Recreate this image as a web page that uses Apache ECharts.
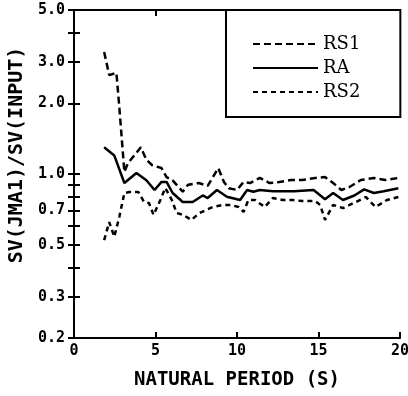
<!DOCTYPE html>
<html><head><meta charset="utf-8">
<script src="https://cdn.jsdelivr.net/npm/echarts@6/dist/echarts.min.js"></script>
<style>html,body{margin:0;padding:0;background:#fff}#c{width:408px;height:396px}</style>
</head><body><div id="c"></div>
<script>
const rs1Period = [1.85, 2.16, 2.6, 2.78, 3.09, 3.3, 4.1, 4.44, 4.8, 5.37, 5.68, 6.05, 6.67, 7.0, 7.65, 8.2, 8.85, 9.2, 9.5, 10.0, 10.4, 10.8, 11.4, 12.0, 12.6, 13.3, 14.0, 14.8, 15.4, 15.9, 16.4, 16.9, 17.6, 18.4, 19.1, 19.9];
const rs1Ratio  = [3.31, 2.64, 2.70, 1.93, 1.02, 1.11, 1.30, 1.15, 1.09, 1.06, 0.97, 0.94, 0.84, 0.90, 0.915, 0.89, 1.06, 0.924, 0.87, 0.855, 0.924, 0.915, 0.962, 0.915, 0.924, 0.943, 0.943, 0.962, 0.971, 0.915, 0.855, 0.88, 0.943, 0.962, 0.943, 0.962];
const raPeriod = [1.85, 2.47, 3.09, 3.83, 4.44, 4.94, 5.37, 5.68, 6.05, 6.67, 7.28, 7.9, 8.2, 8.77, 9.38, 10.19, 10.62, 11.0, 11.4, 12.2, 13.5, 14.7, 15.4, 15.9, 16.5, 17.2, 17.8, 18.4, 19.0, 19.9];
const raRatio  = [1.30, 1.20, 0.915, 1.01, 0.94, 0.855, 0.925, 0.925, 0.83, 0.76, 0.76, 0.81, 0.79, 0.855, 0.80, 0.775, 0.855, 0.84, 0.855, 0.845, 0.845, 0.855, 0.78, 0.83, 0.775, 0.81, 0.86, 0.83, 0.845, 0.87];
const rs2Period = [1.85, 2.16, 2.47, 2.78, 3.09, 3.4, 3.95, 4.3, 4.6, 4.88, 5.3, 5.6, 6.0, 6.3, 6.7, 7.2, 7.7, 8.1, 8.5, 9.1, 9.6, 10.1, 10.4, 10.7, 11.1, 11.7, 12.2, 12.8, 13.4, 14.0, 14.8, 15.1, 15.4, 15.9, 16.5, 17.3, 17.9, 18.5, 19.2, 19.9];
const rs2Ratio  = [0.523, 0.624, 0.54, 0.656, 0.83, 0.838, 0.838, 0.76, 0.752, 0.669, 0.775, 0.872, 0.775, 0.682, 0.669, 0.637, 0.682, 0.702, 0.723, 0.738, 0.738, 0.723, 0.689, 0.775, 0.775, 0.723, 0.79, 0.775, 0.775, 0.767, 0.767, 0.738, 0.637, 0.738, 0.716, 0.76, 0.798, 0.723, 0.775, 0.798];
const seriesNames = ['RS1', 'RA', 'RS2'];
const yTickValues = [0.2, 0.3, 0.4, 0.5, 0.6, 0.7, 0.8, 0.9, 1.0, 2.0, 3.0, 4.0, 5.0];
const yLabelValues = [0.2, 0.3, 0.5, 0.7, 1.0, 2.0, 3.0, 5.0];
const xTickLabels = [0, 5, 10, 15, 20];

const zip = (xs, ys) => xs.map((x, i) => [x, ys[i]]);
const monoFont = 'DejaVu Sans Mono';
const axisLineStyle = { color: '#000', width: 2 };

const xAxisBase = {
  type: 'value', min: 0, max: 20, interval: 5,
  axisLine: { show: true, lineStyle: axisLineStyle },
  axisTick: { show: true, inside: true, length: 6, lineStyle: { color: '#000', width: 2 } },
  splitLine: { show: false }
};
const yAxisBase = {
  type: 'log', logBase: 10, min: 0.2, max: 5,
  axisLine: { show: true, lineStyle: axisLineStyle },
  axisTick: { show: true, inside: true, length: 6, customValues: yTickValues, lineStyle: { color: '#000', width: 2 } },
  minorTick: { show: false },
  splitLine: { show: false }
};

const chart = echarts.init(document.getElementById('c'));
chart.setOption({
  animation: false,
  backgroundColor: '#fff',
  grid: { left: 74, right: 8, top: 10, bottom: 58, containLabel: false, outerBoundsMode: 'none' },
  legend: {
    orient: 'vertical', left: 226, top: 10,
    padding: [25, 40, 16, 26],
    itemWidth: 65, itemHeight: 14, itemGap: 6, itemTextGap: 10,
    itemStyle: { opacity: 0 },
    borderColor: '#000', borderWidth: 2, backgroundColor: '#fff',
    data: seriesNames,
    textStyle: { fontFamily: 'DejaVu Serif', fontSize: 18, color: '#000' }
  },
  xAxis: [
    Object.assign({}, xAxisBase, {
      position: 'bottom',
      name: 'NATURAL PERIOD (S)', nameLocation: 'middle', nameGap: 33,
      nameTextStyle: { fontFamily: monoFont, fontWeight: 'bold', fontSize: 19, color: '#000' },
      axisLabel: { show: true, customValues: xTickLabels, fontFamily: monoFont, fontWeight: 'bold', fontSize: 15, color: '#000', margin: 6 }
    }),
    Object.assign({}, xAxisBase, { position: 'top', axisLabel: { show: false } })
  ],
  yAxis: [
    Object.assign({}, yAxisBase, {
      position: 'left',
      name: 'SV(JMA1)/SV(INPUT)', nameLocation: 'middle', nameGap: 46,
      nameTextStyle: { fontFamily: monoFont, fontWeight: 'bold', fontSize: 20, color: '#000', padding: [0, 0, 0, 38] },
      axisLabel: { show: true, customValues: yLabelValues, formatter: v => Number(v).toFixed(1), fontFamily: monoFont, fontWeight: 'bold', fontSize: 15, color: '#000', margin: 9 }
    }),
    Object.assign({}, yAxisBase, { position: 'right', axisLabel: { show: false } })
  ],
  series: [
    { name: 'RS1', type: 'line', symbol: 'none', data: zip(rs1Period, rs1Ratio), color: '#000',
      lineStyle: { color: '#000', width: 2.5, type: [7, 4] } },
    { name: 'RA', type: 'line', symbol: 'none', data: zip(raPeriod, raRatio), color: '#000',
      lineStyle: { color: '#000', width: 2.5, type: 'solid' } },
    { name: 'RS2', type: 'line', symbol: 'none', data: zip(rs2Period, rs2Ratio), color: '#000',
      lineStyle: { color: '#000', width: 2.5, type: [5, 4] } }
  ]
});
</script></body></html>
